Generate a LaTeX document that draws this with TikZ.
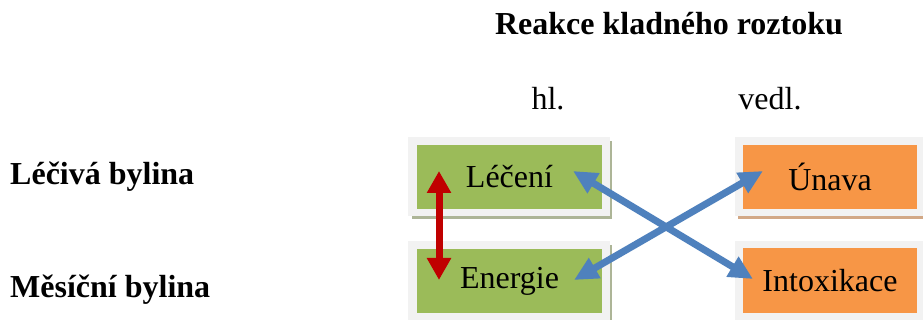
\documentclass[tikz,border=0pt]{standalone}
\usepackage{fontspec}
\setmainfont{Liberation Serif}
\usetikzlibrary{arrows.meta}
\definecolor{boxgreen}{HTML}{9BBB59}
\definecolor{boxorange}{HTML}{F79646}
\definecolor{framegray}{HTML}{F2F2F2}
\definecolor{shadowgreen}{HTML}{ADB597}
\definecolor{shadoworange}{HTML}{D2A886}
\definecolor{arrowblue}{HTML}{4F81BD}
\definecolor{arrowred}{HTML}{C00000}
\begin{document}
\begin{tikzpicture}[x=1pt,y=-1pt,
  txt/.style={font=\fontsize{32}{36}\selectfont, inner sep=0pt, anchor=base},
  btxt/.style={txt, font=\fontsize{32}{36}\selectfont\bfseries},
  inbox/.style={minimum width=185pt, minimum height=64pt, inner sep=0pt, font=\fontsize{32}{36}\selectfont},
  barrow/.style={draw=arrowblue, line width=7pt, {Triangle[length=24pt,width=22pt]}-{Triangle[length=24pt,width=22pt]}},
  rarrow/.style={draw=arrowred, line width=7pt, {Triangle[length=22pt,width=23pt]}-{Triangle[length=22pt,width=23pt]}}
]
\useasboundingbox (0,0) rectangle (923,320);
\fill[white] (0,0) rectangle (923,320);

% frames and shadows
\fill[shadowgreen] (412,141) rectangle (612,219);
\fill[framegray] (408,137) rectangle (610,216);
\fill[shadowgreen] (412,245) rectangle (612,323);
\fill[framegray] (408,241) rectangle (610,323);
\fill[shadoworange] (738,141) rectangle (930,219);
\fill[framegray] (735,137) rectangle (930,216);
\fill[shadoworange] (738,245) rectangle (930,323);
\fill[framegray] (735,241) rectangle (930,323);

% boxes
\node[inbox, fill=boxgreen] (lec) at (509.5,177) {Léčení};
\node[inbox, fill=boxgreen] (ene) at (509.5,281) {Energie};
\node[inbox, fill=boxorange, minimum width=174pt] (una) at (830,177) {Únava};
\node[inbox, fill=boxorange, minimum width=174pt] (int) at (830,280.5) {Intoxikace};

% labels
\node[btxt] (title) at (669,35) {Reakce kladného roztoku};
\node[txt] (hl) at (548,110) {hl.};
\node[txt] (vedl) at (770,110) {vedl.};
\node[btxt, anchor=base west] (lb) at (10,185) {Léčivá bylina};
\node[btxt, anchor=base west] (mb) at (10,297) {Měsíční bylina};

% arrow end points
\coordinate (lecA) at (573,171);
\coordinate (intA) at (753,279);
\coordinate (eneA) at (574,280);
\coordinate (unaA) at (763,171);
\coordinate (lecR) at (439,171);
\coordinate (eneR) at (439,280);

\draw[barrow] (lecA) -- (intA);
\draw[barrow] (eneA) -- (unaA);
\draw[rarrow] (lecR) -- (eneR);
\end{tikzpicture}
\end{document}
